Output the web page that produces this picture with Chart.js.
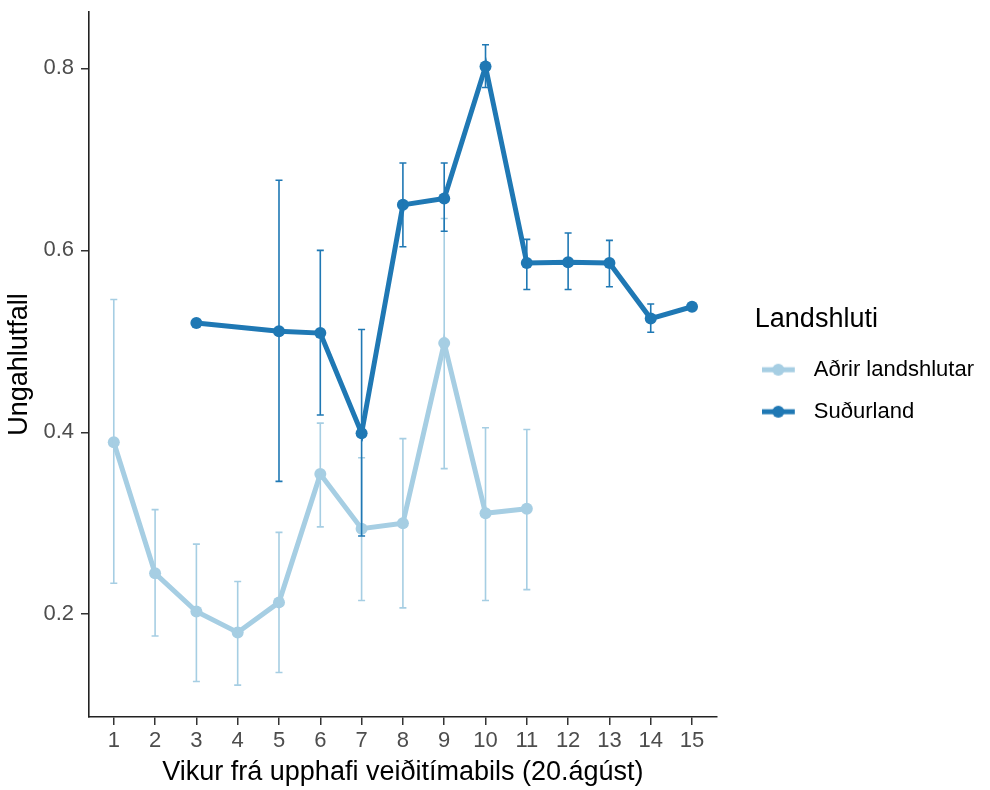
<!DOCTYPE html>
<html lang="is">
<head>
<meta charset="utf-8">
<title>Ungahlutfall eftir vikum</title>
<script src="https://cdn.jsdelivr.net/npm/chart.js@4.4.1/dist/chart.umd.min.js"></script>
<style>
  html, body { margin: 0; padding: 0; background: #ffffff; }
  canvas { display: block; }
</style>
</head>
<body>
<canvas id="chart" width="990" height="790"></canvas>
<script>
// Weeks from the start of the hunting season, and the y-axis ticks
const weekTicks = [1, 2, 3, 4, 5, 6, 7, 8, 9, 10, 11, 12, 13, 14, 15];
const ratioTicks = [0.2, 0.4, 0.6, 0.8];

const seriesNames = ['Aðrir landshlutar', 'Suðurland'];

// Aðrir landshlutar: juvenile ratio with lower / upper error limits
const weeksAdrir = [1, 2, 3, 4, 5, 6, 7, 8, 9, 10, 11];
const ratioAdrir = [0.389, 0.245, 0.203, 0.180, 0.213, 0.354, 0.294, 0.300, 0.498, 0.311, 0.316];
const lowAdrir   = [0.234, 0.176, 0.126, 0.122, 0.136, 0.296, 0.215, 0.207, 0.360, 0.215, 0.227];
const highAdrir  = [0.546, 0.315, 0.277, 0.236, 0.290, 0.410, 0.372, 0.393, 0.635, 0.405, 0.403];

// Suðurland: juvenile ratio with lower / upper error limits (null = no bar)
const weeksSudur = [3, 5, 6, 7, 8, 9, 10, 11, 12, 13, 14, 15];
const ratioSudur = [0.520, 0.511, 0.509, 0.399, 0.650, 0.657, 0.802, 0.586, 0.587, 0.586, 0.525, 0.538];
const lowSudur   = [null, 0.346, 0.419, 0.286, 0.604, 0.621, 0.779, 0.557, 0.557, 0.560, 0.510, null];
const highSudur  = [null, 0.677, 0.600, 0.513, 0.696, 0.696, 0.826, 0.612, 0.619, 0.611, 0.541, null];

const colorAdrir = '#a6cee3';
const colorSudur = '#1f78b4';
const FONT = '"Liberation Sans", Arial, sans-serif';

const toPoints = (xs, ys) => xs.map((x, i) => ({ x: x, y: ys[i] }));

// Vertical error bars with short caps, drawn through the chart scales
const errorBars = {
  id: 'errorBars',
  afterDatasetsDraw(chart) {
    const { ctx, scales: { x, y } } = chart;
    ctx.save();
    chart.data.datasets.forEach((ds, i) => {
      if (!chart.isDatasetVisible(i)) return;
      ctx.strokeStyle = ds.borderColor;
      ctx.lineWidth = 1.6;
      ds.data.forEach((p, j) => {
        const lo = ds.errLow[j], hi = ds.errHigh[j];
        if (lo == null || hi == null) return;
        const px = x.getPixelForValue(p.x);
        const yl = y.getPixelForValue(lo);
        const yh = y.getPixelForValue(hi);
        ctx.beginPath();
        ctx.moveTo(px, yl); ctx.lineTo(px, yh);
        ctx.moveTo(px - 3.5, yl); ctx.lineTo(px + 3.5, yl);
        ctx.moveTo(px - 3.5, yh); ctx.lineTo(px + 3.5, yh);
        ctx.stroke();
      });
    });
    ctx.restore();
  }
};

// Legend key: a short line segment with a dot on it
function legendKey(color) {
  const c = document.createElement('canvas');
  c.width = 54; c.height = 16;
  const g = c.getContext('2d');
  g.strokeStyle = color;
  g.lineWidth = 5;
  g.beginPath(); g.moveTo(0, 8); g.lineTo(33, 8); g.stroke();
  g.fillStyle = color;
  g.beginPath(); g.arc(16.5, 8, 6, 0, Math.PI * 2); g.fill();
  return c;
}

const lineStyle = (color) => ({
  borderColor: color,
  backgroundColor: color,
  pointBackgroundColor: color,
  pointBorderWidth: 0,
  pointRadius: 6,
  pointHoverRadius: 6,
  borderWidth: 5,
  tension: 0,
  fill: false
});

// No extra edge room for tick labels: the plot panel keeps its fixed margins
const noEdgePadding = (s) => { s.paddingTop = 0; s.paddingBottom = 0; s.paddingLeft = 0; s.paddingRight = 0; };

new Chart(document.getElementById('chart'), {
  type: 'line',
  data: {
    datasets: [
      Object.assign({ label: seriesNames[0], data: toPoints(weeksAdrir, ratioAdrir), errLow: lowAdrir, errHigh: highAdrir }, lineStyle(colorAdrir)),
      Object.assign({ label: seriesNames[1], data: toPoints(weeksSudur, ratioSudur), errLow: lowSudur, errHigh: highSudur }, lineStyle(colorSudur))
    ]
  },
  options: {
    responsive: false,
    animation: false,
    events: [],
    layout: { padding: { top: 12, right: 6, bottom: 0, left: 0 } },
    scales: {
      x: {
        type: 'linear',
        position: 'bottom',
        min: 0.4,
        max: 15.6,
        afterBuildTicks(s) { s.ticks = weekTicks.map(v => ({ value: v })); },
        afterFit(s) { s.height = 73; noEdgePadding(s); },
        grid: { display: true, drawOnChartArea: false, drawTicks: true, tickLength: 8, color: '#333333', lineWidth: 1.5 },
        border: { display: true, color: '#222222', width: 1.6 },
        ticks: { autoSkip: false, maxRotation: 0, padding: 3, color: '#4d4d4d', font: { family: FONT, size: 22 } },
        title: { display: true, text: 'Vikur frá upphafi veiðitímabils (20.ágúst)', color: '#000000', font: { family: FONT, size: 27 }, padding: { top: 0, bottom: 1 } }
      },
      y: {
        type: 'linear',
        position: 'left',
        min: 0.087,
        max: 0.862,
        afterBuildTicks(s) { s.ticks = ratioTicks.map(v => ({ value: v })); },
        afterFit(s) { s.width = 89; noEdgePadding(s); },
        grid: { display: true, drawOnChartArea: false, drawTicks: true, tickLength: 8, color: '#333333', lineWidth: 1.5 },
        border: { display: true, color: '#222222', width: 1.6 },
        ticks: { padding: 7, color: '#4d4d4d', font: { family: FONT, size: 22 } },
        title: { display: true, text: 'Ungahlutfall', color: '#000000', font: { family: FONT, size: 27 }, padding: { top: 3, bottom: 0 } }
      },
      gap: {
        type: 'linear',
        position: 'right',
        display: true,
        grid: { display: false },
        border: { display: false },
        ticks: { display: false },
        afterFit(s) { s.width = 38; noEdgePadding(s); }
      }
    },
    plugins: {
      tooltip: { enabled: false },
      legend: {
        position: 'right',
        align: 'center',
        fullSize: false,
        maxWidth: 400,
        title: { display: true, text: 'Landshluti', position: 'start', color: '#000000', font: { family: FONT, size: 27 }, padding: { top: 20, bottom: 0 } },
        labels: {
          usePointStyle: true,
          pointStyleWidth: 28,
          padding: 20,
          color: '#000000',
          font: { family: FONT, size: 22 },
          generateLabels(chart) {
            return chart.data.datasets.map((ds, i) => ({
              text: ds.label,
              pointStyle: legendKey(ds.borderColor),
              fillStyle: ds.borderColor,
              strokeStyle: ds.borderColor,
              lineWidth: 0,
              hidden: false,
              datasetIndex: i,
              fontColor: '#000000'
            }));
          }
        }
      }
    }
  },
  plugins: [errorBars]
});
</script>
</body>
</html>
